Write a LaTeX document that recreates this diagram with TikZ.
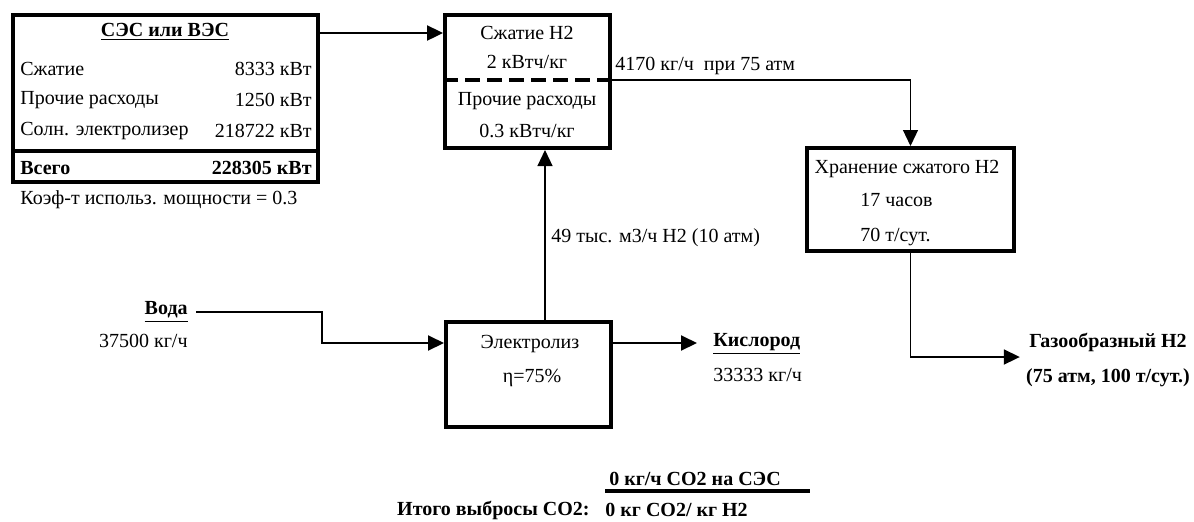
\documentclass[tikz,border=0pt]{standalone}
\usepackage{fontspec}
\setmainfont{Liberation Serif}
\usetikzlibrary{arrows.meta}

\begin{document}
\begin{tikzpicture}[x=0.5pt,y=-0.5pt,>={Triangle[length=8pt,width=7.5pt]},
  font=\fontsize{10}{17}\selectfont,
  box/.style={draw,line width=2pt,inner sep=0pt},
  lbl/.style={inner sep=1pt},
  splitline/.style={line width=2pt,dash pattern=on 7.5pt off 3.5pt},
  flow/.style={->,line width=1.2pt},
  thinflow/.style={->,line width=0.6pt}]
\useasboundingbox (0,0) rectangle (1194,521);
% blocks
\node[box,minimum width=152.5pt,minimum height=83.5pt] (ses) at (165.5,98.5) {};
\node[box,minimum width=82.5pt,minimum height=66.5pt] (comp) at (527.5,81.5) {};
\node[box,minimum width=103.5pt,minimum height=51.5pt] (stor) at (910.5,199.5) {};
\node[box,minimum width=82.5pt,minimum height=52.5pt] (elec) at (528.5,374.5) {};
\coordinate (split) at (527,80);
\coordinate (tot) at (165,151);
\coordinate (eline) at (528,343);
\coordinate (up) at (545,0);
\coordinate (bend) at (322,312);
\draw[line width=2pt] (ses.west |- tot) -- (ses.east |- tot);
\draw[splitline] (comp.west |- split) -- (comp.east |- split);
% power plant
\node[lbl] (sestitle) at (165,32) {\bfseries\underline{СЭС или ВЭС}};
\node[lbl,anchor=west] (r1) at (18,69) {Сжатие};
\node[lbl,anchor=east] (v1) at (314,69) {8333 кВт};
\node[lbl,anchor=west] (r2) at (18,100) {Прочие расходы};
\node[lbl,anchor=east] (v2) at (314,100) {1250 кВт};
\node[lbl,anchor=west] (r3) at (18,131) {Солн. электролизер};
\node[lbl,anchor=east] (v3) at (314,131) {218722 кВт};
\node[lbl,anchor=west] (r4) at (18,168) {\bfseries Всего};
\node[lbl,anchor=east] (v4) at (314,168) {\bfseries 228305 кВт};
\node[lbl,anchor=west] (kium) at (18,200) {Коэф-т использ. мощности = 0.3};
% compression
\node[lbl] (c1) at (527,33) {Сжатие Н2};
\node[lbl] (c2) at (527,62) {2 кВтч/кг};
\node[lbl] (c3) at (527,101) {Прочие расходы};
\node[lbl] (c4) at (527,131) {0.3 кВтч/кг};
% storage
\node[lbl] (s1) at (907,169) {Хранение сжатого Н2};
\node[lbl,anchor=west] (s2) at (858,200) {17 часов};
\node[lbl,anchor=west] (s3) at (858,237) {70 т/сут.};
% electrolysis
\node[lbl] (e1) at (530,344) {Электролиз};
\node[lbl] (e2) at (532,378) {η=75\%};
\node[lbl,anchor=east] (water) at (190,312) {\bfseries\underline{Вода}};
\node[lbl,anchor=east] (wrate) at (190,341) {37500 кг/ч};
\node[lbl,anchor=west] (oxy) at (711,344) {\bfseries\underline{Кислород}};
\node[lbl,anchor=west] (orate) at (711,375) {33333 кг/ч};
\node[lbl,align=center,font=\fontsize{10}{17.5}\selectfont\bfseries] (gas) at (1108,360) {Газообразный Н2\\(75 атм, 100 т/сут.)};
% flows
\draw[flow] (ses.east |- c1) -- (comp.west |- c1);
\draw[thinflow] (comp.east |- split) -| (stor.north);
\node[lbl,anchor=west] (hrate) at (613,66) {4170 кг/ч\ \ при 75 атм};
\draw[thinflow] (elec.north -| up) -- (comp.south -| up);
\node[lbl,anchor=west] (h2rate) at (549,238) {49 тыс. м3/ч Н2 (10 атм)};
\draw[flow,line width=1pt,shorten <=3pt] (water.east) -- (bend) |- (elec.west |- eline);
\draw[flow,line width=1pt] (elec.east |- eline) -- ([xshift=-7pt]oxy.west |- eline);
\draw[flow,line width=0.9pt] (stor.south) |- ([xshift=-2pt]gas.west |- 0,357);
% emissions
\node[lbl] (co2a) at (695,479) {\bfseries 0 кг/ч CO2 на СЭС};
\node[lbl,anchor=east] (co2t) at (592,510) {\bfseries Итого выбросы CO2:};
\node[lbl,anchor=west] (co2b) at (603,510) {\bfseries 0 кг CO2/ кг Н2};
\draw[line width=2pt] (605,491) -- (810,491);
\end{tikzpicture}
\end{document}
